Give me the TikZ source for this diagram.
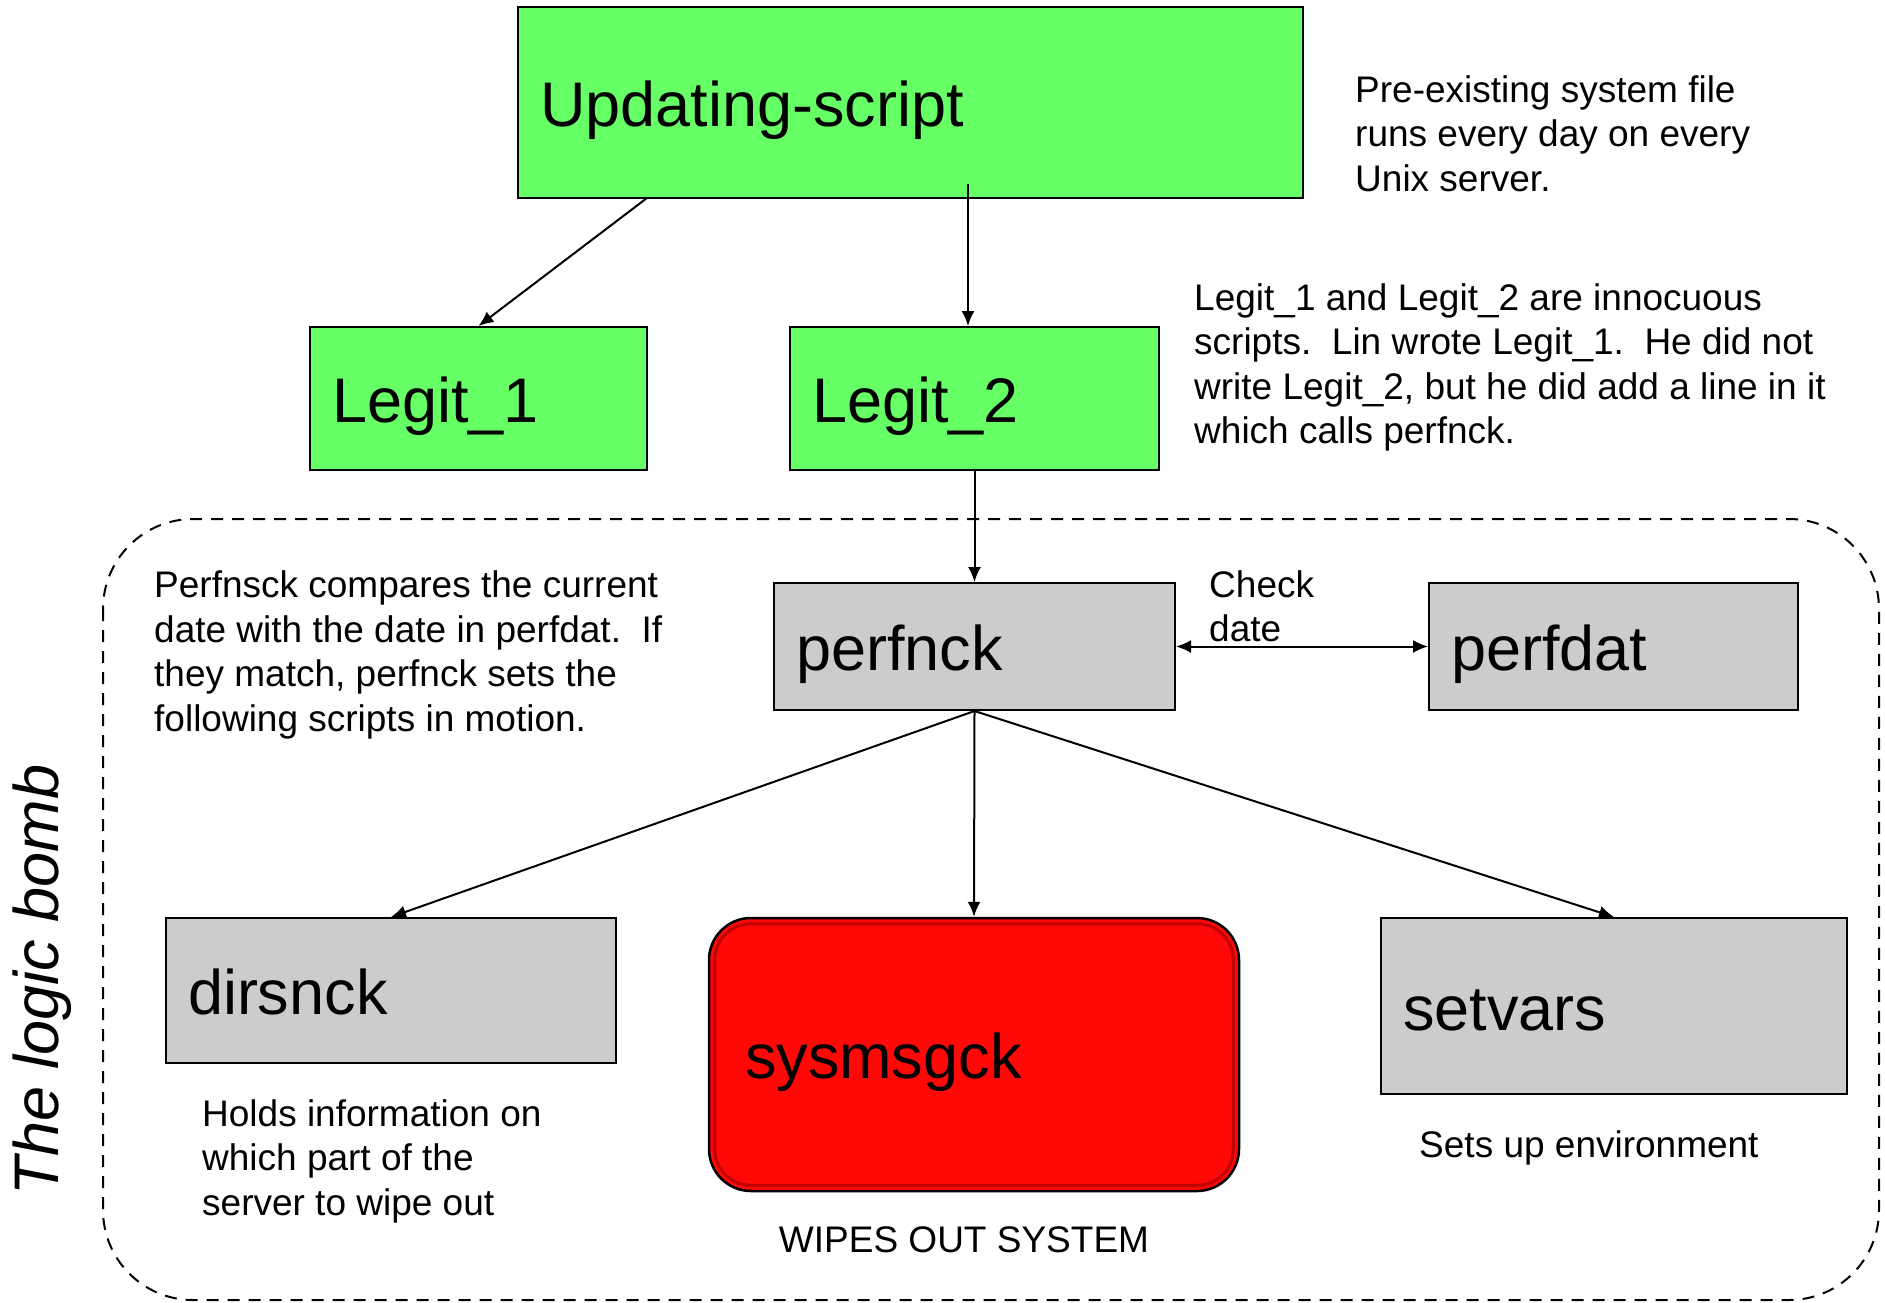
\documentclass[tikz,border=0pt]{standalone}
\usepackage{fontspec}
\setmainfont{Liberation Sans}
\usetikzlibrary{arrows.meta}
\definecolor{gfill}{RGB}{102,255,102}
\definecolor{grayfill}{RGB}{204,204,204}
\definecolor{redfill}{RGB}{255,8,8}
\definecolor{darkred}{RGB}{190,0,0}
\begin{document}
\begin{tikzpicture}[x=1pt,y=-1pt,
  box/.style={draw=black,line width=2pt,inner xsep=22pt,inner ysep=0pt,align=left,text height=60pt,text depth=12pt,font=\fontsize{63}{70}\selectfont},
  note/.style={inner sep=0pt,align=left,anchor=west,font=\fontsize{37}{44.5}\selectfont},
  arr/.style={line width=2pt,-{Latex[length=15pt,width=13pt]}},
  darr/.style={line width=2pt,{Latex[length=15pt,width=13pt]}-{Latex[length=15pt,width=13pt]}}]
\useasboundingbox (0,0) rectangle (1885,1302);

% dashed region
\draw[line width=2pt,dash pattern=on 12pt off 9pt,rounded corners=90pt] (103,519) rectangle (1879,1300);

% boxes
\node[box,fill=gfill,minimum width=785pt,minimum height=191pt,text width=741pt] (us) at (910.5,102.5) {Updating-script};
\node[box,fill=gfill,minimum width=337pt,minimum height=143pt,text width=293pt] (l1) at (478.5,398.5) {Legit\_1};
\node[box,fill=gfill,minimum width=369pt,minimum height=143pt,text width=325pt] (l2) at (974.5,398.5) {Legit\_2};
\node[box,fill=grayfill,minimum width=401pt,minimum height=127pt,text width=357pt] (pn) at (974.5,646.5) {perfnck};
\node[box,fill=grayfill,minimum width=369pt,minimum height=127pt,text width=325pt] (pd) at (1613.5,646.5) {perfdat};
\node[box,fill=grayfill,minimum width=450pt,minimum height=145pt,text width=406pt] (dn) at (391,990.5) {dirsnck};
\node[box,fill=redfill,rounded corners=42pt,line width=2.5pt,inner xsep=36pt,minimum width=530pt,minimum height=273pt,text width=458pt] (sm) at (974,1054.5) {sysmsgck};
\draw[darkred,line width=3pt,rounded corners=36pt] ([shift={(7,7)}]sm.north west) rectangle ([shift={(-7,-7)}]sm.south east);
\node[box,fill=grayfill,minimum width=466pt,minimum height=176pt,text width=422pt] (sv) at (1614,1006) {setvars};

% notes
\node[note] (t1) at (1355,133.5) {Pre-existing system file\\runs every day on every\\Unix server.};
\node[note] (t2) at (1194,367.5) {Legit\_1 and Legit\_2 are innocuous\\scripts.\ \ Lin wrote Legit\_1.\ \ He did not\\write Legit\_2, but he did add a line in it\\which calls perfnck.};
\node[note] (t3) at (154,655) {Perfnsck compares the current\\date with the date in perfdat.\ \ If\\they match, perfnck sets the\\following scripts in motion.};
\node[note] (t4) at (1209,606.5) {Check\\date};
\node[note] (t5) at (202,1161) {Holds information on\\which part of the\\server to wipe out};
\node[note,anchor=center] (t6) at (964,1240) {WIPES OUT SYSTEM};
\node[note] (t7) at (1419,1148) {Sets up environment};
\node[inner sep=0pt,rotate=90,font=\itshape\fontsize{63}{70}\selectfont] (t8) at (42,980) {The logic bomb};

% connectors
\coordinate (a1) at (647,198);
\coordinate (a2) at (968,184);
\draw[arr] (a1) -- (l1.north);
\draw[arr] (a2) -- (a2 |- l2.north);
\draw[arr] (l2.south) -- (pn.north);
\draw[darr] (pn.east) -- (pd.west);
\draw[arr] (pn.south) -- (dn.north);
\draw[arr] (pn.south) -- (sm.north);
\draw[arr] (pn.south) -- (sv.north);
\end{tikzpicture}
\end{document}
